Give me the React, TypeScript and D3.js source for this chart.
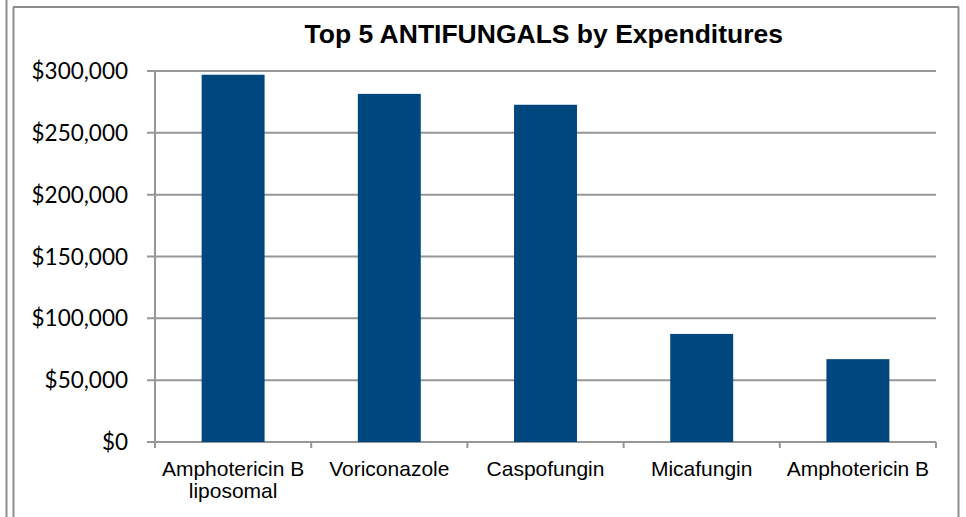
import React from "react";
import * as d3 from "d3";

const categories: string[][] = [
  ["Amphotericin B", "liposomal"],
  ["Voriconazole"],
  ["Caspofungin"],
  ["Micafungin"],
  ["Amphotericin B"],
];
const values: number[] = [297000, 281500, 272700, 87400, 67000];
const yTicks: number[] = [0, 50000, 100000, 150000, 200000, 250000, 300000];
const title = "Top 5 ANTIFUNGALS by Expenditures";

export default function App() {
  const W = 966;
  const H = 517;
  const plot = { left: 155, right: 936, top: 71, bottom: 442 };
  const x = d3
    .scaleBand<number>()
    .domain(d3.range(values.length))
    .range([plot.left, plot.right])
    .paddingInner(0.597)
    .paddingOuter(0.2985);
  const y = d3.scaleLinear().domain([0, 300000]).range([plot.bottom, plot.top]);
  const fmt = (v: number) => "$" + d3.format(",")(v);
  const step = (plot.right - plot.left) / values.length;
  const grid = "#979797";

  return (
    <svg
      width={W}
      height={H}
      style={{ position: "absolute", left: 0, top: 0, background: "#fff" }}
    >
      <rect x={0} y={0} width={W} height={H} fill="#fff" />
      {/* outer borders */}
      <line x1={6.5} x2={6.5} y1={0} y2={H} stroke="#8c8c8c" strokeWidth={2} />
      <line x1={13.5} x2={13.5} y1={7} y2={H} stroke="#8c8c8c" strokeWidth={2} />
      <line x1={13} x2={959} y1={7} y2={7} stroke="#8c8c8c" strokeWidth={2} />
      <line x1={958.5} x2={958.5} y1={7} y2={H} stroke="#8c8c8c" strokeWidth={2} />

      {/* title */}
      <text
        x={543.8}
        y={43}
        textAnchor="middle"
        fontFamily="'Liberation Sans', Arial, sans-serif"
        fontWeight="bold"
        fontSize={26.5}
        fill="#000"
      >
        {title}
      </text>

      {/* gridlines */}
      {yTicks.map((t) => (
        <line
          key={"g" + t}
          x1={plot.left - 8}
          x2={plot.right}
          y1={y(t)}
          y2={y(t)}
          stroke={grid}
          strokeWidth={2}
        />
      ))}
      {/* y axis line */}
      <line x1={plot.left} x2={plot.left} y1={plot.top} y2={plot.bottom + 5} stroke={grid} strokeWidth={2} />

      {/* y tick labels */}
      {yTicks.map((t) => (
        <text
          key={"t" + t}
          x={128}
          y={y(t)}
          dy={8}
          textAnchor="end"
          fontFamily="Lato, 'Open Sans', sans-serif"
          fontSize={22.5}
          fill="#000"
        >
          {fmt(t)}
        </text>
      ))}

      {/* bars */}
      {values.map((v, i) => (
        <rect
          key={"b" + i}
          x={x(i)}
          y={y(v)}
          width={x.bandwidth()}
          height={y(0) - y(v)}
          fill="#00467f"
        />
      ))}

      {/* x axis category tick marks */}
      {d3.range(values.length + 1).map((i) => (
        <line
          key={"xt" + i}
          x1={plot.left + i * step}
          x2={plot.left + i * step}
          y1={plot.bottom}
          y2={plot.bottom + 6}
          stroke={grid}
          strokeWidth={2}
        />
      ))}

      {/* category labels */}
      {categories.map((lines, i) => (
        <text
          key={"c" + i}
          x={(x(i) as number) + x.bandwidth() / 2}
          y={475.5}
          textAnchor="middle"
          fontFamily="'Liberation Sans', Arial, sans-serif"
          fontSize={21}
          fill="#000"
        >
          {lines.map((l, j) => (
            <tspan key={j} x={(x(i) as number) + x.bandwidth() / 2} dy={j === 0 ? 0 : 22.5}>
              {l}
            </tspan>
          ))}
        </text>
      ))}
    </svg>
  );
}
